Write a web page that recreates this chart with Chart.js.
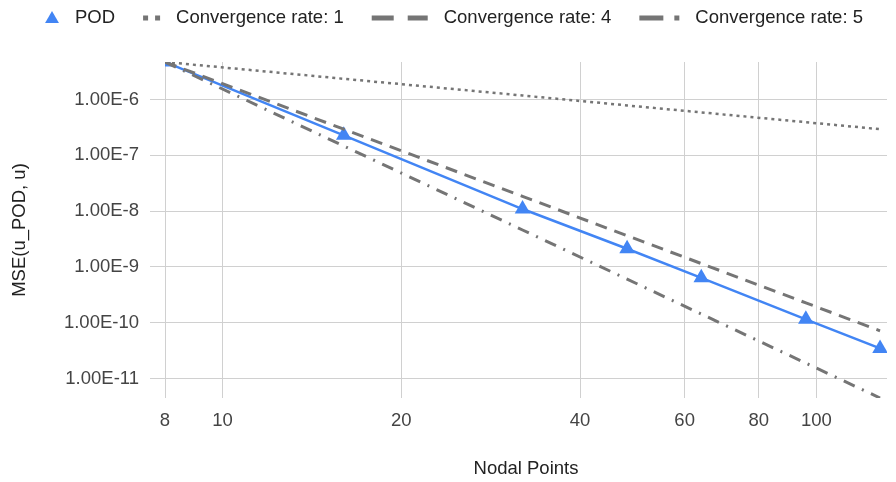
<!DOCTYPE html>
<html>
<head>
<meta charset="utf-8">
<title>MSE convergence</title>
<script src="https://cdn.jsdelivr.net/npm/chart.js@4"></script>
<style>
  html, body { margin: 0; padding: 0; background: #fff; }
  #wrap { width: 896px; height: 482px; position: relative; }
</style>
</head>
<body>
<div id="wrap"><canvas id="mseChart"></canvas></div>
<script>
// nodal points and MSE values
const nodalPoints = [8, 16, 32, 48, 64, 96, 128];
const podMse = [4.7e-6, 2.28e-7, 1.09e-8, 2.12e-9, 6.37e-10, 1.15e-10, 3.47e-11];
// reference slopes anchored at the first POD value
const rate1 = [4.7e-6, 2.35e-6, 1.18e-6, 7.83e-7, 5.88e-7, 3.92e-7, 2.94e-7];
const rate4 = [4.7e-6, 2.94e-7, 1.84e-8, 3.63e-9, 1.15e-9, 2.27e-10, 7.17e-11];
const rate5 = [4.7e-6, 1.47e-7, 4.59e-9, 6.04e-10, 1.43e-10, 1.89e-11, 4.48e-12];

const xTicks = [8, 10, 20, 40, 60, 80, 100];
const yTicks = [1e-11, 1e-10, 1e-9, 1e-8, 1e-7, 1e-6];

const FONT = "'Liberation Sans', Arial, sans-serif";
const FONT_SIZE = 18.5;
const GRID = '#d0d0d0';
const GREY = '#757575';

Chart.defaults.font.family = FONT;
Chart.defaults.font.size = FONT_SIZE;

const toPoints = ys => nodalPoints.map((x, i) => ({ x: x, y: ys[i] }));
const allValues = podMse.concat(rate1, rate4, rate5);

// legend drawn by hand so each swatch can have its own width / pattern
const sheetLegend = {
    id: 'sheetLegend',
    afterDraw(chart) {
        const ctx = chart.ctx;
        const y = 18;
        let x = 45;
        ctx.save();
        ctx.font = FONT_SIZE + 'px ' + FONT;
        ctx.textBaseline = 'middle';
        chart.data.datasets.forEach(ds => {
            const sym = ds.legendSymbol;
            if (sym.triangle) {
                ctx.fillStyle = ds.borderColor;
                Chart.helpers.drawPoint(ctx, { pointStyle: 'triangle', radius: 8, borderWidth: 0 }, x + sym.width / 2, y + 1);
            } else {
                ctx.strokeStyle = GREY;
                ctx.lineWidth = 5;
                ctx.setLineDash(sym.dash);
                ctx.beginPath();
                ctx.moveTo(x, y);
                ctx.lineTo(x + sym.width, y);
                ctx.stroke();
                ctx.setLineDash([]);
            }
            x += sym.width + 16;
            ctx.fillStyle = '#222';
            ctx.fillText(ds.label, x, y);
            x += ctx.measureText(ds.label).width + 28;
        });
        ctx.restore();
    }
};

new Chart(document.getElementById('mseChart'), {
    type: 'line',
    data: {
        datasets: [{
            label: 'POD',
            data: toPoints(podMse),
            borderColor: '#4285f4',
            backgroundColor: '#4285f4',
            borderWidth: 2.5,
            pointStyle: 'triangle',
            pointRadius: 9,
            pointBorderWidth: 0,
            order: 1,
            legendSymbol: { triangle: true, width: 14 }
        }, {
            label: 'Convergence rate: 1',
            data: toPoints(rate1),
            borderColor: GREY,
            borderWidth: 2.5,
            borderDash: [3, 4],
            pointRadius: 0,
            order: 0,
            legendSymbol: { dash: [5, 7], width: 17 }
        }, {
            label: 'Convergence rate: 4',
            data: toPoints(rate4),
            borderColor: GREY,
            borderWidth: 3,
            borderDash: [12, 8],
            pointRadius: 0,
            order: 0,
            legendSymbol: { dash: [22, 14], width: 56 }
        }, {
            label: 'Convergence rate: 5',
            data: toPoints(rate5),
            borderColor: GREY,
            borderWidth: 3,
            borderDash: [12, 8, 2, 8],
            pointRadius: 0,
            order: 0,
            legendSymbol: { dash: [24, 11, 5, 100], width: 40 }
        }]
    },
    options: {
        responsive: true,
        maintainAspectRatio: false,
        animation: false,
        layout: { padding: { top: 62, right: 0, bottom: 0, left: 0 } },
        plugins: {
            legend: { display: false },
            tooltip: { enabled: false }
        },
        scales: {
            x: {
                type: 'logarithmic',
                min: 8,
                max: 131.5,
                afterBuildTicks: s => { s.ticks = xTicks.map(v => ({ value: v })); },
                afterFit: s => { s.height = 84; },
                ticks: {
                    color: '#444',
                    padding: 12,
                    autoSkip: false,
                    maxRotation: 0,
                    callback: v => String(v)
                },
                grid: { color: GRID, drawTicks: false },
                border: { display: false },
                title: { display: true, text: 'Nodal Points', color: '#222', padding: { top: 0, bottom: 2 } }
            },
            y: {
                type: 'logarithmic',
                min: Math.min(...allValues),
                max: Math.max(...allValues),
                afterBuildTicks: s => { s.ticks = yTicks.map(v => ({ value: v })); },
                afterFit: s => { s.width = 165; },
                ticks: {
                    color: '#444',
                    padding: 11,
                    callback: v => v.toExponential(2).toUpperCase().replace('+', '')
                },
                grid: { color: GRID, tickLength: 15 },
                border: { display: false },
                title: { display: true, text: 'MSE(u_POD, u)', color: '#222', padding: { top: 9, bottom: 0 } }
            }
        }
    },
    plugins: [sheetLegend]
});
</script>
</body>
</html>
